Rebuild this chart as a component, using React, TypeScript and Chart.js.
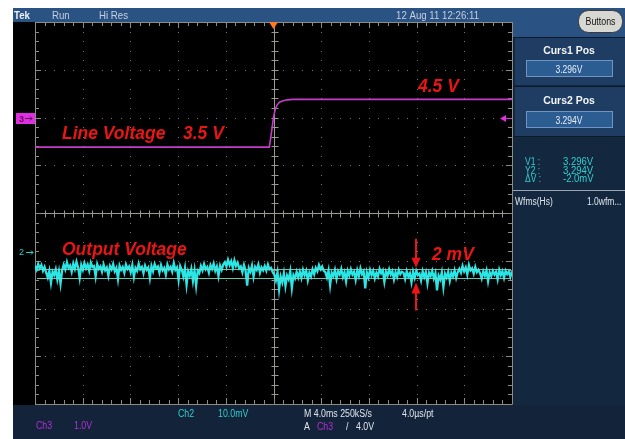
import React, { useEffect, useRef } from "react";
import { Chart, registerables } from "chart.js";

Chart.register(...registerables);

// ---- data ----
const timeRangeMs = [-20, 20]; // 10 div x 4.0 ms/div
const divRange = [-4, 4];
const timePerDivMs = 4;

// Ch3: line voltage (1.0 V/div)
const ch3TimesMs = [-20, -0.35, -0.2, 0.0, 0.15, 0.3, 0.5, 0.8, 1.2, 1.6, 20];
const ch3Volts = [3.5, 3.5, 3.75, 4.12, 4.3, 4.38, 4.44, 4.47, 4.49, 4.5, 4.5];
const ch3VoltsPerDiv = 1.0;
const ch3CenterVolts = 2.12;
const ch3MarkerVolts = 4.1;

// Ch2: output voltage (10.0 mV/div), samples in mV relative to base
const ch2MvPerDiv = 10;
const ch2CenterMv = 3307.7;
const ch2MarkerMv = 3299.6;
const outputBaseMv = 3295;
const outputNoiseMv = [
  1.6, 0.8, 2.0, 1.1, 1.8, 0.6, 1.4,
  0.2, -0.8, 0.6, -1.9, 0.4, -0.3, 0.9, -1.2, 0.5, -2.1, 0.7,
  1.9, 0.9, 2.4, 1.2, 1.7, 0.4, 2.1, 1.0, 2.5, 1.3, -0.9, 1.8, 0.8, 2.2, 1.1, 1.9, 0.6, 2.3, 1.4, 1.6, -0.6, 2.0, 1.0,
  1.5, 0.4, 1.9, 0.7, 1.3, -0.4, 1.6, 0.9, 2.0, 0.5, 1.2, -1.1, 1.7, 0.8, 1.4, 0.2, 1.9, 1.0, 1.5, 0.3,
  1.8, -0.7, 1.2, 0.6, 2.1, 0.9, 1.4, 0.1, 1.7, 0.8, 1.3, -0.9, 1.6, 0.5, 2.0, 1.1, 1.5, 0.2, 1.8, 0.7,
  1.2, -0.2, 1.9, 0.9, 1.4, 0.4, 2.2, 0.8, 1.3, -1.3, 1.6,
  0.8, -0.6, 1.2, -2.3, 0.5, -0.4, 1.0, -1.5, 0.7, -2.5, 0.6, 0.1,
  1.6, 0.7, 2.0, 0.9, 1.4, 0.2, 1.8, 1.0, 2.1, 0.6, 1.5, -0.5, 1.7, 0.8, 1.9,
  2.4, 1.5, 2.9, 1.8, 2.6, 1.2, 2.8, 1.6, 2.3, 1.1,
  1.5, 0.3, 1.8, 0.6, -2.5, 1.2, 0.4, 1.7, -0.6, 1.4, 0.8, 1.9, 0.2, 1.3, 0.7,
  1.6, 0.6, 1.9, 0.9, 1.2, 0.3,
  -0.2, -1.4, 0.3, -3.3, -0.6, -1.8, 0.1, -2.6, -0.4, -1.2, 0.5, -3.0, -0.3, -1.0, 0.4, -0.8,
  0.4, -0.9, 0.8, -0.3, 0.6, -1.4, 0.2, -0.6, 0.9, -0.1,
  1.2, 0.5, 1.8, 0.9, 1.5, 0.6, 0.3, -0.8, 0.7, -2.4,
  0.2, -0.5, 0.8, -1.1, 0.5, -0.2, 1.0, -0.7, 0.3, -1.6,
  0.6, -0.4, 0.9, -0.2, 0.4, -1.3, 0.7, -0.5, 1.1, -0.1,
  0.5, -3.1, 0.3, -0.8, 0.8, -0.3, 0.6, -1.0, 0.2, -0.6,
  1.0, 0.1, 0.7, -1.7, 0.4, -0.4, 0.9, -0.2, 0.5, -1.2,
  0.3, -0.7, 0.8, -0.1, 0.4,
  0.2, -1.1, 0.5, -0.6, 0.1, -1.8, 0.4, -0.9, 0.6, -0.3,
  0.0, -1.4, 0.5, -0.7, 0.3, -2.0, 0.2, -0.5, 0.6, -1.0,
  0.1, -3.5, -0.4, -1.2, 0.3, -2.8, 0.0, -0.8, 0.4, -1.5,
  0.2, -0.6, 0.7, -0.9, 0.3,
  1.0, 0.2, 1.6, 0.5, 1.3, -0.2, 1.8, 0.7, 1.1, 0.0, 1.4, 0.3, 0.8,
  0.1, -1.0, 0.5, -0.4, 0.7, -1.6, 0.3, -0.5, 0.6, -0.2, 0.4, -1.2, 0.8, -0.3, 0.5, -0.9, 0.6, -0.1, 0.4, -0.7, 0.5,
];
const cursorVolts = [3.296, 3.294];
const cursorLabels = ["3.296V", "3.294V"];
const readoutLabels = ["V1 :", "Y2 :", "\u0394V :"];
const readoutValues = ["3.296V", "3.294V", "-2.0mV"];

const topLabels = ["Tek", "Run", "Hi Res", "12 Aug 11 12:26:11"];

// ---- helpers ----
const SANS = '"Liberation Sans", Arial, sans-serif';

function txt(
  ctx: CanvasRenderingContext2D,
  s: string,
  x: number,
  y: number,
  font: string,
  color: string,
  align: CanvasTextAlign = "left",
  sx = 0.88
) {
  ctx.save();
  ctx.font = font;
  ctx.fillStyle = color;
  ctx.textAlign = align;
  ctx.textBaseline = "alphabetic";
  ctx.translate(x, y);
  ctx.scale(sx, 1);
  ctx.fillText(s, 0, 0);
  ctx.restore();
}

const scopePlugin = {
  id: "scopeChrome",
  beforeDraw(chart: any) {
    const ctx: CanvasRenderingContext2D = chart.ctx;
    const a = chart.chartArea;
    const xs = chart.scales.x;
    const ys = chart.scales.y;
    const px = (v: number) => xs.getPixelForValue(v);
    const py = (v: number) => ys.getPixelForValue(v);
    ctx.save();
    // page
    ctx.fillStyle = "#ffffff";
    ctx.fillRect(0, 0, chart.width, chart.height);
    // top bar
    ctx.fillStyle = "#2a5283";
    ctx.fillRect(13, 8, 612, 14);
    // black screen
    ctx.fillStyle = "#000000";
    ctx.fillRect(13, 22, a.right - 13 + 1, a.bottom - 22 + 1);
    // right panel
    ctx.fillStyle = "#13283f";
    ctx.fillRect(a.right + 1, 22, 625 - a.right, a.bottom - 21);
    ctx.fillStyle = "#2a5283";
    ctx.fillRect(a.right + 1, 22, 625 - a.right, 15);
    ctx.fillStyle = "#1f3d62";
    ctx.fillRect(a.right + 3, 38, 625 - a.right - 3, 47);
    ctx.fillRect(a.right + 3, 87, 625 - a.right - 3, 49);
    // bottom bar
    ctx.fillStyle = "#13233a";
    ctx.fillRect(13, a.bottom + 1, 612, chart.height - a.bottom);

    // graticule dots
    ctx.fillStyle = "#77776e";
    for (let i = -4; i <= 4; i++) {
      if (i === 0) continue;
      const X = Math.round(px(i * timePerDivMs));
      for (let k = -20; k <= 20; k++) {
        const Y = Math.round(py(k * 0.2));
        ctx.fillRect(X, Y, 1, 1);
      }
    }
    for (let j = -3; j <= 3; j++) {
      if (j === 0) continue;
      const Y = Math.round(py(j));
      for (let k = -25; k <= 25; k++) {
        const X = Math.round(px(k * 0.2 * timePerDivMs));
        ctx.fillRect(X, Y, 1, 1);
      }
    }
    // center crosshair
    ctx.strokeStyle = "#9a9a90";
    ctx.lineWidth = 1;
    const cx = Math.round(px(0)) + 0.5;
    const cy = Math.round(py(0)) + 0.5;
    ctx.beginPath();
    ctx.moveTo(a.left, cy);
    ctx.lineTo(a.right, cy);
    ctx.moveTo(cx, a.top);
    ctx.lineTo(cx, a.bottom);
    for (let k = -25; k <= 25; k++) {
      const X = Math.round(px(k * 0.2 * timePerDivMs)) + 0.5;
      ctx.moveTo(X, cy - 3);
      ctx.lineTo(X, cy + 4);
    }
    for (let k = -20; k <= 20; k++) {
      const Y = Math.round(py(k * 0.2)) + 0.5;
      ctx.moveTo(cx - 3, Y);
      ctx.lineTo(cx + 4, Y);
    }
    ctx.stroke();
    // border with ticks
    ctx.strokeStyle = "#8c8c82";
    ctx.beginPath();
    ctx.rect(Math.round(a.left) + 0.5, Math.round(a.top) + 0.5, Math.round(a.right - a.left), Math.round(a.bottom - a.top));
    for (let k = -25; k <= 25; k++) {
      const X = Math.round(px(k * 0.2 * timePerDivMs)) + 0.5;
      const len = k % 5 === 0 ? 6 : 4;
      ctx.moveTo(X, a.top);
      ctx.lineTo(X, a.top + len);
      ctx.moveTo(X, a.bottom);
      ctx.lineTo(X, a.bottom - len);
    }
    for (let k = -20; k <= 20; k++) {
      const Y = Math.round(py(k * 0.2)) + 0.5;
      const len = k % 5 === 0 ? 6 : 4;
      ctx.moveTo(a.left, Y);
      ctx.lineTo(a.left + len, Y);
      ctx.moveTo(a.right, Y);
      ctx.lineTo(a.right - len, Y);
    }
    ctx.stroke();

    // top bar texts
    txt(ctx, topLabels[0], 14, 19, `bold 11px ${SANS}`, "#eef2f8");
    txt(ctx, topLabels[1], 52, 19, `11px ${SANS}`, "#c4cfe0");
    txt(ctx, topLabels[2], 99, 19, `11px ${SANS}`, "#c4cfe0");
    txt(ctx, topLabels[3], 396, 19, `11px ${SANS}`, "#c4cfe0");

    // Buttons pill
    ctx.fillStyle = "#d8d8d2";
    ctx.strokeStyle = "#3a3a3a";
    ctx.beginPath();
    (ctx as any).roundRect(578.5, 10.5, 44, 22, 10);
    ctx.fill();
    ctx.stroke();
    txt(ctx, "Buttons", 600.5, 25, `10px ${SANS}`, "#111111", "center", 0.88);

    // right panel separators
    ctx.strokeStyle = "#0c1a2c";
    ctx.beginPath();
    ctx.moveTo(a.right + 1, 37.5);
    ctx.lineTo(625, 37.5);
    ctx.moveTo(a.right + 1, 86.5);
    ctx.lineTo(625, 86.5);
    ctx.moveTo(a.right + 1, 136.5);
    ctx.lineTo(625, 136.5);
    ctx.stroke();

    // cursor panels
    const panels = [
      { title: "Curs1 Pos", val: cursorLabels[0], ty: 54, by: 60 },
      { title: "Curs2 Pos", val: cursorLabels[1], ty: 104, by: 111 },
    ];
    for (const p of panels) {
      txt(ctx, p.title, 569, p.ty, `bold 11px ${SANS}`, "#f2f4f8", "center", 0.95);
      ctx.fillStyle = "#2b5d93";
      ctx.fillRect(526, p.by, 87, 17);
      ctx.strokeStyle = "#7095c2";
      ctx.strokeRect(526.5, p.by + 0.5, 86, 16);
      txt(ctx, p.val, 569, p.by + 12.5, `10px ${SANS}`, "#e8eef6", "center", 0.85);
    }
    // readouts
    for (let i = 0; i < 3; i++) {
      const yy = 165 + i * 8.5;
      txt(ctx, readoutLabels[i], 525, yy, `10px ${SANS}`, "#2fcfcf", "left", 0.85);
      txt(ctx, readoutValues[i], 563, yy, `10px ${SANS}`, "#2fcfcf", "left", 0.95);
    }
    ctx.strokeStyle = "#9aa4b4";
    ctx.beginPath();
    ctx.moveTo(a.right + 1, 190.5);
    ctx.lineTo(625, 190.5);
    ctx.stroke();
    txt(ctx, "Wfms(Hs)", 515, 205, `10px ${SANS}`, "#dfe4ec", "left", 0.85);
    txt(ctx, "1.0wfm...", 587, 205, `10px ${SANS}`, "#dfe4ec", "left", 0.85);

    // bottom readouts
    const by1 = a.bottom + 13;
    const by2 = a.bottom + 25;
    txt(ctx, "Ch2", 178, by1, `10px ${SANS}`, "#2fcfcf");
    txt(ctx, "10.0mV", 218, by1, `10px ${SANS}`, "#2fcfcf");
    txt(ctx, "M 4.0ms 250kS/s", 304, by1, `10px ${SANS}`, "#dfe4ec");
    txt(ctx, "4.0\u00b5s/pt", 402, by1, `10px ${SANS}`, "#dfe4ec");
    txt(ctx, "Ch3", 36, by2, `10px ${SANS}`, "#b52fd6");
    txt(ctx, "1.0V", 74, by2, `10px ${SANS}`, "#b52fd6");
    txt(ctx, "A", 304, by2 + 1, `10px ${SANS}`, "#dfe4ec");
    txt(ctx, "Ch3", 317, by2 + 1, `10px ${SANS}`, "#b52fd6");
    txt(ctx, "/", 346, by2 + 1, `10px ${SANS}`, "#dfe4ec");
    txt(ctx, "4.0V", 356, by2 + 1, `10px ${SANS}`, "#dfe4ec");
    ctx.restore();
  },
  afterDatasetsDraw(chart: any) {
    const ctx: CanvasRenderingContext2D = chart.ctx;
    const a = chart.chartArea;
    const xs = chart.scales.x;
    const ys = chart.scales.y;
    const px = (v: number) => xs.getPixelForValue(v);
    const py = (v: number) => ys.getPixelForValue(v);
    const ch2Div = (mv: number) => (mv - ch2CenterMv) / ch2MvPerDiv;
    const ch3Div = (v: number) => (v - ch3CenterVolts) / ch3VoltsPerDiv;
    ctx.save();
    // cursors
    ctx.strokeStyle = "rgba(110,220,200,0.9)";
    ctx.lineWidth = 1;
    ctx.beginPath();
    for (const cv of cursorVolts) {
      const Y = Math.round(py(ch2Div(cv * 1000))) + 0.5;
      ctx.moveTo(a.left + 2, Y);
      ctx.lineTo(a.right - 1, Y);
    }
    ctx.stroke();

    // trigger position marker
    const tx = px(0);
    ctx.fillStyle = "#ff7a1e";
    ctx.beginPath();
    ctx.moveTo(tx - 4.5, a.top);
    ctx.lineTo(tx + 4.5, a.top);
    ctx.lineTo(tx, a.top + 7);
    ctx.closePath();
    ctx.fill();

    // ch3 marker (left)
    const m3 = py(ch3Div(ch3MarkerVolts));
    ctx.fillStyle = "#e22ee2";
    ctx.fillRect(16, Math.round(m3) - 5, 19, 11);
    txt(ctx, "3", 19, Math.round(m3) + 4, `bold 9px ${SANS}`, "#5a0f5a", "left", 1);
    ctx.strokeStyle = "#5a0f5a";
    ctx.beginPath();
    ctx.moveTo(25, Math.round(m3) + 0.5);
    ctx.lineTo(32, Math.round(m3) + 0.5);
    ctx.moveTo(30, Math.round(m3) - 1.5);
    ctx.lineTo(32, Math.round(m3) + 0.5);
    ctx.lineTo(30, Math.round(m3) + 2.5);
    ctx.stroke();
    // trigger level arrow (right)
    ctx.fillStyle = "#e030e0";
    ctx.strokeStyle = "#e030e0";
    ctx.beginPath();
    ctx.moveTo(a.right - 12, m3);
    ctx.lineTo(a.right - 6, m3 - 3.5);
    ctx.lineTo(a.right - 6, m3 + 3.5);
    ctx.closePath();
    ctx.fill();
    ctx.beginPath();
    ctx.moveTo(a.right - 7, Math.round(m3) + 0.5);
    ctx.lineTo(a.right, Math.round(m3) + 0.5);
    ctx.stroke();

    // ch2 marker
    const m2 = py(ch2Div(ch2MarkerMv));
    txt(ctx, "2", 19, m2 + 3.5, `9px ${SANS}`, "#2fcfcf", "left", 1);
    ctx.strokeStyle = "#2fcfcf";
    ctx.beginPath();
    ctx.moveTo(26, Math.round(m2) + 0.5);
    ctx.lineTo(33, Math.round(m2) + 0.5);
    ctx.moveTo(31, Math.round(m2) - 1.5);
    ctx.lineTo(33, Math.round(m2) + 0.5);
    ctx.lineTo(31, Math.round(m2) + 2.5);
    ctx.stroke();

    // annotations
    const red = "#ec1414";
    const af = `italic bold 17.5px ${SANS}`;
    const yLow = py(ch3Div(ch3Volts[0]));
    const yHigh = py(ch3Div(ch3Volts[ch3Volts.length - 1]));
    txt(ctx, "Line Voltage", 62, yLow - 8, af, red, "left", 1);
    txt(ctx, "3.5 V", 183, yLow - 8, af, red, "left", 1);
    txt(ctx, "4.5 V", 418, yHigh - 7, af, red, "left", 1);
    txt(ctx, "Output Voltage", 62, 255, af, red, "left", 1);
    txt(ctx, "2 mV", 432, 260, af, red, "left", 1);

    // red arrows
    const ax = 416;
    const yTop = py(ch2Div(cursorVolts[0] * 1000));
    const yBot = py(ch2Div(cursorVolts[1] * 1000));
    ctx.strokeStyle = red;
    ctx.fillStyle = red;
    ctx.lineWidth = 2;
    ctx.beginPath();
    ctx.moveTo(ax, yTop - 30);
    ctx.lineTo(ax, yTop - 10);
    ctx.moveTo(ax, yBot + 14);
    ctx.lineTo(ax, yBot + 32);
    ctx.stroke();
    ctx.beginPath();
    ctx.moveTo(ax - 4.5, yTop - 11);
    ctx.lineTo(ax + 4.5, yTop - 11);
    ctx.lineTo(ax, yTop - 1);
    ctx.closePath();
    ctx.moveTo(ax - 4.5, yBot + 15);
    ctx.lineTo(ax + 4.5, yBot + 15);
    ctx.lineTo(ax, yBot + 4);
    ctx.closePath();
    ctx.fill();
    ctx.restore();
  },
};

export default function App() {
  const ref = useRef<HTMLCanvasElement | null>(null);
  useEffect(() => {
    if (!ref.current) return;
    const n = outputNoiseMv.length;
    const span = timeRangeMs[1] - timeRangeMs[0];
    const ch2Points = outputNoiseMv.map((d, i) => ({
      x: timeRangeMs[0] + (i * span) / (n - 1),
      y: (outputBaseMv + d - ch2CenterMv) / ch2MvPerDiv,
    }));
    const ch3Points = ch3TimesMs.map((t, i) => ({
      x: t,
      y: (ch3Volts[i] - ch3CenterVolts) / ch3VoltsPerDiv,
    }));
    const chart = new Chart(ref.current, {
      type: "line",
      data: {
        datasets: [
          {
            label: "Ch3 Line Voltage",
            data: ch3Points,
            borderColor: "#c43cc8",
            borderWidth: 1.6,
            pointRadius: 0,
            fill: false,
            tension: 0,
          },
          {
            label: "Ch2 Output Voltage",
            data: ch2Points,
            borderColor: "#2ce6e6",
            borderWidth: 2.3,
            pointRadius: 0,
            fill: false,
            tension: 0,
          },
        ],
      },
      options: {
        responsive: false,
        animation: false,
        devicePixelRatio: 1,
        events: [],
        layout: { padding: { left: 35, right: 113, top: 22, bottom: 35 } },
        plugins: { legend: { display: false }, tooltip: { enabled: false } },
        scales: {
          x: { type: "linear", min: timeRangeMs[0], max: timeRangeMs[1], display: false },
          y: { type: "linear", min: divRange[0], max: divRange[1], display: false },
        },
      },
      plugins: [scopePlugin],
    } as any);
    return () => chart.destroy();
  }, []);
  return (
    <div style={{ position: "fixed", left: 0, top: 0, width: 625, height: 439, background: "#fff" }}>
      <canvas ref={ref} width={625} height={439} style={{ display: "block", width: 625, height: 439 }} />
    </div>
  );
}
